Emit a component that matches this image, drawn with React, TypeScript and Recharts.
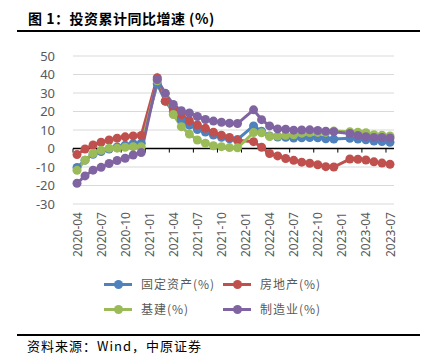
import React from "react";
import {
    LineChart,
    Line,
    XAxis,
    YAxis,
    CartesianGrid,
    ReferenceLine,
} from "recharts";

// months on the date axis; January has no data (Jan-Feb is reported together)
const months: string[] = [
    "2020-04", "2020-05", "2020-06", "2020-07", "2020-08", "2020-09", "2020-10", "2020-11", "2020-12",
    "2021-01", "2021-02", "2021-03", "2021-04", "2021-05", "2021-06", "2021-07", "2021-08", "2021-09", "2021-10", "2021-11", "2021-12",
    "2022-01", "2022-02", "2022-03", "2022-04", "2022-05", "2022-06", "2022-07", "2022-08", "2022-09", "2022-10", "2022-11", "2022-12",
    "2023-01", "2023-02", "2023-03", "2023-04", "2023-05", "2023-06", "2023-07",
];

const fixedAsset: (number | null)[] = [
    -10.3, -6.3, -3.1, -1.6, -0.3, 0.8, 1.8, 2.6, 2.9,
    null, 35.0, 25.6, 19.9, 15.4, 12.6, 10.3, 8.9, 7.3, 6.1, 5.2, 4.9,
    null, 12.2, 9.3, 6.8, 6.2, 6.1, 5.7, 5.8, 5.9, 5.8, 5.3, 5.1,
    null, 5.5, 5.1, 4.7, 4.0, 3.8, 3.4,
];

const realEstate: (number | null)[] = [
    -3.3, -0.3, 1.9, 3.4, 4.6, 5.6, 6.3, 6.8, 7.0,
    null, 38.3, 25.6, 21.6, 18.3, 15.0, 12.7, 10.9, 8.8, 7.2, 6.0, 4.4,
    null, 3.7, 0.7, -2.7, -4.0, -5.4, -6.4, -7.4, -8.0, -8.8, -9.8, -10.0,
    null, -5.7, -5.8, -6.2, -7.2, -7.9, -8.5,
];

const infra: (number | null)[] = [
    -11.8, -6.3, -2.7, -1.0, 0.2, 0.2, 0.7, 1.0, 0.9,
    null, 36.6, 29.7, 18.4, 11.8, 7.8, 4.6, 2.9, 1.5, 1.0, 0.5, 0.4,
    null, 8.6, 8.5, 6.5, 6.7, 7.1, 7.4, 8.3, 8.6, 8.7, 8.7, 9.4,
    null, 9.0, 8.8, 8.5, 7.5, 7.2, 6.8,
];

const manufacturing: (number | null)[] = [
    -18.8, -14.8, -11.7, -10.2, -8.1, -6.5, -5.3, -3.5, -2.2,
    null, 37.3, 29.8, 23.8, 20.4, 19.2, 17.3, 15.7, 14.8, 14.2, 13.7, 13.5,
    null, 20.9, 15.6, 12.2, 10.6, 10.4, 9.9, 10.0, 10.1, 9.7, 9.3, 9.1,
    null, 8.1, 7.0, 6.4, 6.0, 6.0, 5.7,
];

const yTicks = [-30, -20, -10, 0, 10, 20, 30, 40, 50];

const series = [
    { key: "fixedAsset", name: "固定资产(%)", color: "#4f81bd" },
    { key: "realEstate", name: "房地产(%)", color: "#c0504d" },
    { key: "infra", name: "基建(%)", color: "#9bbb59" },
    { key: "manufacturing", name: "制造业(%)", color: "#8064a2" },
];

const data = months.map((m, i) => ({
    idx: i,
    month: m,
    fixedAsset: fixedAsset[i],
    realEstate: realEstate[i],
    infra: infra[i],
    manufacturing: manufacturing[i],
}));

// label every third month
const xTicks = months.map((_, i) => i).filter((i) => i % 3 === 0);

const axisFont = "'Noto Sans', 'DejaVu Sans', sans-serif";
const cjkFont = "'Noto Sans CJK SC', 'Noto Sans', sans-serif";

function LegendItem({ name, color, left, top }: { name: string; color: string; left: number; top: number }) {
    return (
        <div style={{ position: "absolute", left, top, height: 14, display: "flex", alignItems: "center" }}>
            <div style={{ position: "relative", width: 28, height: 14 }}>
                <div style={{ position: "absolute", left: 0, top: 5.5, width: 28, height: 3, background: color }} />
                <div
                    style={{
                        position: "absolute",
                        left: 9.5,
                        top: 2.5,
                        width: 9,
                        height: 9,
                        borderRadius: "50%",
                        background: color,
                    }}
                />
            </div>
            <span style={{ marginLeft: 9, fontSize: 12, color: "#595959", letterSpacing: 1, fontFamily: cjkFont, lineHeight: "14px" }}>
                {name}
            </span>
        </div>
    );
}

export default function App() {
    return (
        <div
            style={{
                position: "absolute",
                left: 0,
                top: 0,
                width: 430,
                height: 356,
                background: "#fff",
                overflow: "hidden",
                fontFamily: cjkFont,
            }}
        >
            <div
                style={{
                    position: "absolute",
                    left: 28,
                    top: 9,
                    fontSize: 14,
                    fontWeight: 700,
                    letterSpacing: 0.5,
                    lineHeight: "18px",
                    color: "#000",
                    whiteSpace: "nowrap",
                }}
            >
                图 1：投资累计同比增速 (%)
            </div>
            <div style={{ position: "absolute", left: 17, top: 30, width: 403, height: 2, background: "#000" }} />

            <div style={{ position: "absolute", left: 0, top: 0 }}>
                <LineChart width={430} height={270} data={data} margin={{ top: 56, right: 36, left: 0, bottom: 0 }}>
                    <CartesianGrid horizontal vertical={false} stroke="#d9d9d9" />
                    <XAxis
                        type="number"
                        dataKey="idx"
                        domain={[-0.5, 39.5]}
                        ticks={xTicks}
                        interval={0}
                        tickFormatter={(v) => months[v] ?? ""}
                        angle={-90}
                        textAnchor="end"
                        height={66}
                        axisLine={false}
                        tickLine={false}
                        tickSize={0}
                        tickMargin={8}
                        tick={{ fontSize: 12, fill: "#595959", fontFamily: axisFont, dx: -4 }}
                    />
                    <YAxis
                        type="number"
                        domain={[-30, 50]}
                        ticks={yTicks}
                        interval={0}
                        width={73}
                        axisLine={false}
                        tickLine={false}
                        tickSize={0}
                        tickMargin={18}
                        tick={{ fontSize: 13, fill: "#595959", fontFamily: axisFont }}
                    />
                    <ReferenceLine y={0} stroke="#000" strokeWidth={1.5} />
                    {xTicks.map((i) => (
                        <ReferenceLine
                            key={"t" + i}
                            segment={[
                                { x: i - 0.5, y: 0 },
                                { x: i - 0.5, y: -2.2 },
                            ]}
                            stroke="#000"
                            strokeWidth={1}
                        />
                    ))}
                    {series.map((s) => (
                        <Line
                            key={s.key}
                            type="linear"
                            dataKey={s.key}
                            name={s.name}
                            stroke={s.color}
                            strokeWidth={3}
                            connectNulls
                            dot={{ r: 4.5, fill: s.color, stroke: s.color, strokeWidth: 0 }}
                            activeDot={false}
                            isAnimationActive={false}
                        />
                    ))}
                </LineChart>
            </div>

            <LegendItem name={series[0].name} color={series[0].color} left={104} top={277} />
            <LegendItem name={series[1].name} color={series[1].color} left={223} top={277} />
            <LegendItem name={series[2].name} color={series[2].color} left={104} top={302} />
            <LegendItem name={series[3].name} color={series[3].color} left={223} top={302} />

            <div style={{ position: "absolute", left: 17, top: 334, width: 403, height: 2, background: "#000" }} />
            <div
                style={{
                    position: "absolute",
                    left: 27,
                    top: 338,
                    fontSize: 13,
                    letterSpacing: 1,
                    lineHeight: "16px",
                    color: "#000",
                    whiteSpace: "nowrap",
                }}
            >
                资料来源：Wind，中原证券
            </div>
        </div>
    );
}
